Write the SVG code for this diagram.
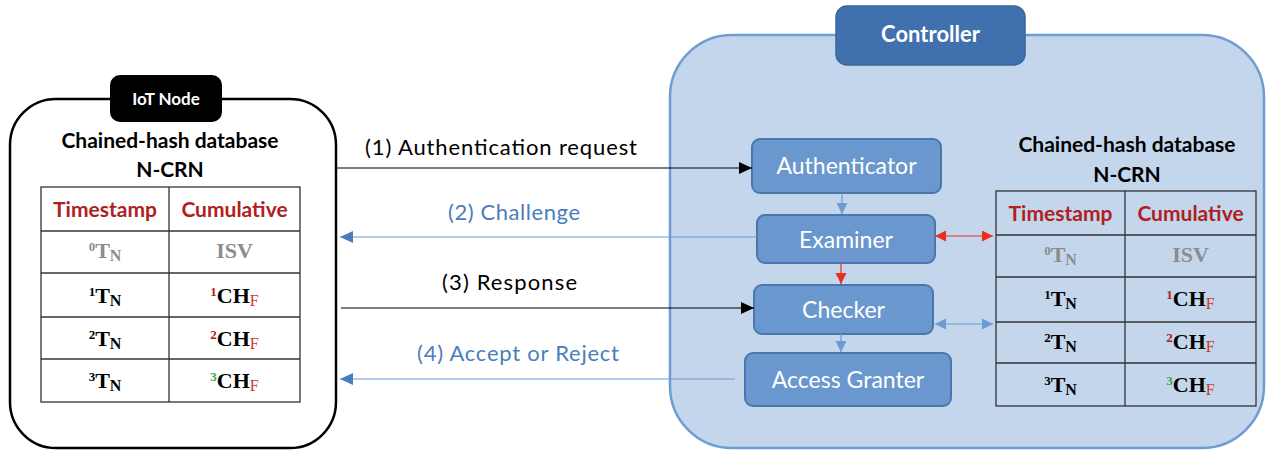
<svg xmlns="http://www.w3.org/2000/svg" width="1267" height="450" viewBox="0 0 1267 450">
<style>
.sans{font-family:Lato,"Open Sans","Liberation Sans",sans-serif}
.title{font-family:Lato,"Liberation Sans",sans-serif;font-weight:bold;font-size:21px;fill:#000;text-anchor:middle}
.hdr{font-family:Lato,"Liberation Sans",sans-serif;font-weight:bold;font-size:21px;fill:#B0211E;text-anchor:middle}
.cell{font-family:"Liberation Serif",serif;font-weight:bold;text-anchor:middle}
.grid{stroke:#333;stroke-width:1.3;fill:none}
.node rect{fill:#6A98CE;stroke:#4A77AA;stroke-width:2}
.node text{font-family:Lato,"Liberation Sans",sans-serif;font-size:23px;fill:#fff;text-anchor:middle}
.lbl{font-family:Lato,"Liberation Sans",sans-serif;font-size:22px}
.blk{fill:#000}
.blu{fill:#4A7EBB}
.gray{fill:#8C8C8C}
.red{fill:#B0211E}
.green{fill:#3DAA4A}
</style>
<defs>
<marker id="ab" markerUnits="userSpaceOnUse" markerWidth="14" markerHeight="12" refX="13" refY="6" orient="auto-start-reverse"><path d="M0,0 L13,6 L0,12 Z" fill="#000"/></marker>
<marker id="abl" markerUnits="userSpaceOnUse" markerWidth="14" markerHeight="12" refX="13" refY="6" orient="auto-start-reverse"><path d="M0,0 L13,6 L0,12 Z" fill="#4A7EBB"/></marker>
<marker id="sbl" markerUnits="userSpaceOnUse" markerWidth="12" markerHeight="12" refX="11" refY="5.5" orient="auto-start-reverse"><path d="M0,0 L11,5.5 L0,11 Z" fill="#6A9BD1"/></marker>
<marker id="sred" markerUnits="userSpaceOnUse" markerWidth="12" markerHeight="12" refX="11" refY="5.5" orient="auto-start-reverse"><path d="M0,0 L11,5.5 L0,11 Z" fill="#E8301E"/></marker>
</defs>

<!-- IoT Node -->
<g id="iot-node">
<rect x="10" y="99" width="326" height="349" rx="46" fill="#fff" stroke="#000" stroke-width="2.5"/>
<rect x="110" y="75" width="112" height="47" rx="10" fill="#000"/>
<text x="166" y="105" class="sans" font-size="17" font-weight="bold" fill="#fff" text-anchor="middle">IoT Node</text>
<text x="170" y="148" class="title">Chained-hash database</text>
<text x="170" y="177" class="title">N-CRN</text>
<g id="iot-table">
<rect x="41" y="187" width="259" height="215" fill="#fff" class="grid"/>
<path class="grid" d="M169,187 V402 M41,231 H300 M41,273 H300 M41,317 H300 M41,359 H300"/>
<text x="105" y="217" class="hdr">Timestamp</text>
<text x="234.5" y="217" class="hdr">Cumulative</text>
<text x="105" y="258" class="cell gray"><tspan font-size="13" dy="-7">0</tspan><tspan font-size="22" dy="7">T</tspan><tspan font-size="16" dy="3">N</tspan></text>
<text x="234.5" y="258" class="cell gray" font-size="22">ISV</text>
<text x="105" y="303" class="cell blk"><tspan font-size="13" dy="-7">1</tspan><tspan font-size="22" dy="7">T</tspan><tspan font-size="16" dy="3">N</tspan></text>
<text x="234.5" y="303" class="cell"><tspan font-size="13" dy="-7" class="red">1</tspan><tspan font-size="22" dy="7" class="blk">CH</tspan><tspan font-size="16" dy="3" font-weight="normal" fill="#D03A2E">F</tspan></text>
<text x="105" y="346" class="cell blk"><tspan font-size="13" dy="-7">2</tspan><tspan font-size="22" dy="7">T</tspan><tspan font-size="16" dy="3">N</tspan></text>
<text x="234.5" y="346" class="cell"><tspan font-size="13" dy="-7" class="red">2</tspan><tspan font-size="22" dy="7" class="blk">CH</tspan><tspan font-size="16" dy="3" font-weight="normal" fill="#D03A2E">F</tspan></text>
<text x="105" y="388" class="cell blk"><tspan font-size="13" dy="-7">3</tspan><tspan font-size="22" dy="7">T</tspan><tspan font-size="16" dy="3">N</tspan></text>
<text x="234.5" y="388" class="cell"><tspan font-size="13" dy="-7" class="green">3</tspan><tspan font-size="22" dy="7" class="blk">CH</tspan><tspan font-size="16" dy="3" font-weight="normal" fill="#D03A2E">F</tspan></text>
</g>
</g>

<!-- Controller -->
<g id="controller">
<rect x="670" y="35" width="594" height="413" rx="62" fill="#C3D6EB" stroke="#6D9DD3" stroke-width="2.5"/>
<rect x="836" y="6" width="189" height="59" rx="11" fill="#4070AE" stroke="#3A659E" stroke-width="1.5"/>
<text x="930.5" y="42" class="sans" font-size="22" font-weight="bold" fill="#fff" text-anchor="middle">Controller</text>
<text x="1127" y="152" class="title">Chained-hash database</text>
<text x="1127" y="182" class="title">N-CRN</text>
<g id="ctrl-table">
<rect x="996" y="191" width="260" height="215" class="grid"/>
<path class="grid" d="M1125,191 V406 M996,235 H1256 M996,277 H1256 M996,322 H1256 M996,363 H1256"/>
<text x="1060.5" y="221" class="hdr">Timestamp</text>
<text x="1190.5" y="221" class="hdr">Cumulative</text>
<text x="1060.5" y="262" class="cell gray"><tspan font-size="13" dy="-7">0</tspan><tspan font-size="22" dy="7">T</tspan><tspan font-size="16" dy="3">N</tspan></text>
<text x="1190.5" y="262" class="cell gray" font-size="22">ISV</text>
<text x="1060.5" y="306" class="cell blk"><tspan font-size="13" dy="-7">1</tspan><tspan font-size="22" dy="7">T</tspan><tspan font-size="16" dy="3">N</tspan></text>
<text x="1190.5" y="306" class="cell"><tspan font-size="13" dy="-7" class="red">1</tspan><tspan font-size="22" dy="7" class="blk">CH</tspan><tspan font-size="16" dy="3" font-weight="normal" fill="#D03A2E">F</tspan></text>
<text x="1060.5" y="349" class="cell blk"><tspan font-size="13" dy="-7">2</tspan><tspan font-size="22" dy="7">T</tspan><tspan font-size="16" dy="3">N</tspan></text>
<text x="1190.5" y="349" class="cell"><tspan font-size="13" dy="-7" class="red">2</tspan><tspan font-size="22" dy="7" class="blk">CH</tspan><tspan font-size="16" dy="3" font-weight="normal" fill="#D03A2E">F</tspan></text>
<text x="1060.5" y="392" class="cell blk"><tspan font-size="13" dy="-7">3</tspan><tspan font-size="22" dy="7">T</tspan><tspan font-size="16" dy="3">N</tspan></text>
<text x="1190.5" y="392" class="cell"><tspan font-size="13" dy="-7" class="green">3</tspan><tspan font-size="22" dy="7" class="blk">CH</tspan><tspan font-size="16" dy="3" font-weight="normal" fill="#D03A2E">F</tspan></text>
</g>
</g>

<g id="authenticator" class="node"><rect x="752" y="139" width="189" height="54" rx="8"/><text x="846.5" y="174">Authenticator</text></g>
<g id="examiner" class="node"><rect x="757" y="215" width="178" height="48" rx="8"/><text x="846" y="248">Examiner</text></g>
<g id="checker" class="node"><rect x="754" y="285" width="179" height="49" rx="8"/><text x="843.5" y="318">Checker</text></g>
<g id="access-granter" class="node"><rect x="745" y="353" width="206" height="53" rx="8"/><text x="848" y="388">Access Granter</text></g>

<!-- Connectors -->
<g id="connectors" fill="none">
<line x1="337" y1="168" x2="752" y2="168" stroke="#000" stroke-width="1.2" marker-end="url(#ab)"/>
<line x1="757" y1="237" x2="340" y2="237" stroke="#6A9BD1" stroke-width="1.2" marker-end="url(#abl)"/>
<line x1="341" y1="308" x2="754" y2="308" stroke="#000" stroke-width="1.2" marker-end="url(#ab)"/>
<line x1="735" y1="379" x2="340" y2="379" stroke="#6A9BD1" stroke-width="1.2" marker-end="url(#abl)"/>
<line x1="842" y1="193" x2="842" y2="214" stroke="#6A9BD1" stroke-width="1.2" marker-end="url(#sbl)"/>
<line x1="841" y1="263" x2="841" y2="284" stroke="#E8301E" stroke-width="1.2" marker-end="url(#sred)"/>
<line x1="841" y1="334" x2="841" y2="352" stroke="#6A9BD1" stroke-width="1.2" marker-end="url(#sbl)"/>
<line x1="935" y1="236" x2="993" y2="236" stroke="#E8301E" stroke-width="1.2" marker-start="url(#sred)" marker-end="url(#sred)"/>
<line x1="935" y1="324" x2="993" y2="324" stroke="#6A9BD1" stroke-width="1.2" marker-start="url(#sbl)" marker-end="url(#sbl)"/>
</g>
<g id="connector-labels">
<text x="365" y="155" class="lbl blk" textLength="272" lengthAdjust="spacing">(1)  Authentication request</text>
<text x="448" y="220" class="lbl blu" textLength="132" lengthAdjust="spacing">(2) Challenge</text>
<text x="442" y="290" class="lbl blk" textLength="135" lengthAdjust="spacing">(3)  Response</text>
<text x="417" y="361" class="lbl blu" textLength="202" lengthAdjust="spacing">(4)  Accept or Reject</text>
</g>
</svg>
